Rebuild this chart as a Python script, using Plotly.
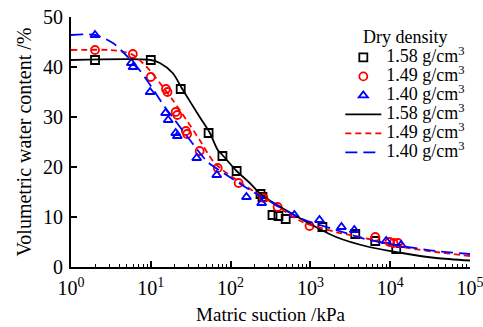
import plotly.graph_objects as go

# Measured soil-water characteristic data (matric suction in kPa, volumetric water content in %)
suction_158 = [2, 10, 23.7, 53, 79, 119, 237, 251, 335, 398, 490, 1413, 3650, 6500, 11900]
theta_158 = [41.4, 41.4, 35.6, 26.8, 22.2, 19.2, 14.6, 14.0, 10.4, 10.2, 9.6, 8.0, 6.6, 5.2, 3.6]

suction_149 = [2, 5.96, 10, 15.5, 16.2, 20.5, 21.5, 27.5, 28.5, 41, 69, 126, 258, 388, 975, 6500, 9800, 11000, 12500]
theta_149 = [43.4, 42.6, 38.0, 35.6, 35.0, 31.0, 30.4, 27.2, 26.6, 23.2, 19.8, 16.8, 13.8, 12.0, 8.2, 6.0, 5.0, 4.8, 4.8]

suction_140 = [2, 5.7, 6.0, 9.8, 15.3, 16.5, 20.5, 21.5, 37.6, 67, 158, 245, 630, 1300, 2450, 3550, 8900, 13700]
theta_140 = [46.4, 40.8, 40.0, 35.0, 30.8, 29.4, 26.8, 26.2, 21.8, 18.4, 14.0, 12.8, 10.4, 9.4, 8.0, 7.4, 5.2, 4.4]

# Fitted curves
fit_s_158 = [1, 10, 13, 18.8, 24.4, 41, 55, 69, 79, 119, 174, 245, 730, 2100, 5450, 14000, 37500, 100000]
fit_t_158 = [41.4, 41.4, 40.8, 38.8, 35.8, 30.0, 26.8, 23.4, 22.4, 19.2, 16.8, 14.4, 9.8, 6.0, 4.0, 2.8, 1.8, 1.3]

fit_s_149 = [1, 3.1, 4.7, 6, 8.9, 13, 18.8, 28, 41, 63, 129, 335, 795, 2100, 5450, 14000, 37500, 100000]
fit_t_149 = [43.4, 43.4, 43.0, 42.4, 40.0, 36.8, 33.4, 29.4, 25.4, 20.8, 17.0, 12.8, 9.0, 7.0, 5.6, 4.0, 3.0, 2.2]

fit_s_140 = [1, 2, 3.35, 4.47, 6.9, 8.9, 11.9, 15, 20, 33, 51.6, 89, 174, 335, 795, 2100, 5450, 14000, 37500, 100000]
fit_t_140 = [46.4, 46.4, 44.8, 43.0, 39.8, 37.4, 34.4, 32.0, 29.4, 24.8, 21.0, 18.4, 15.4, 12.8, 9.6, 7.4, 5.4, 4.2, 3.2, 2.6]

densities = ["1.58", "1.49", "1.40"]
colors = ["black", "red", "blue"]
symbols = ["square-open", "circle-open", "triangle-up-open"]

x_tick_vals = [1, 10, 100, 1000, 10000, 100000]
x_tick_text = ["10<sup>0</sup>", "10<sup>1</sup>", "10<sup>2</sup>",
               "10<sup>3</sup>", "10<sup>4</sup>", "10<sup>5</sup>"]
x_minor_vals = [m * 10 ** d for d in range(5) for m in range(2, 10)]

FONT = "Liberation Serif"


def legend_label(density):
    # large label text while keeping the legend rows compact
    return f"<span style='font-size:18px'>{density} g/cm<sup>3</sup></span>"


fig = go.Figure()

for s, t, d, c, sym in zip([suction_158, suction_149, suction_140],
                           [theta_158, theta_149, theta_140],
                           densities, colors, symbols):
    fig.add_trace(go.Scatter(
        x=s, y=t, mode="markers", name=legend_label(d),
        marker=dict(symbol=sym, size=8, color=c, line=dict(width=1.8, color=c)),
    ))

for s, t, d, c, dash in zip([fit_s_158, fit_s_149, fit_s_140],
                            [fit_t_158, fit_t_149, fit_t_140],
                            densities, colors, ["solid", "6px,4px", "12px,6px"]):
    fig.add_trace(go.Scatter(
        x=s, y=t, mode="lines", name=legend_label(d),
        line=dict(color=c, width=1.8, dash=dash, shape="spline", smoothing=0.8),
    ))

fig.update_layout(
    width=483, height=327,
    margin=dict(l=71, r=13, t=17, b=60),
    plot_bgcolor="white", paper_bgcolor="white",
    font=dict(family=FONT, size=19, color="black"),
    legend=dict(
        x=0.675, y=0.99, xanchor="left", yanchor="top",
        bgcolor="rgba(0,0,0,0)",
        title=dict(text="Dry density", side="top center", font=dict(size=18)),
        font=dict(size=12), tracegroupgap=0, itemwidth=36,
    ),
)

fig.update_xaxes(
    type="log", range=[0, 5], tickmode="array",
    tickvals=x_tick_vals, ticktext=x_tick_text, ticklabeloverflow="allow",
    showline=True, linecolor="black", linewidth=2,
    ticks="inside", ticklen=6, tickwidth=1.5, tickcolor="black",
    minor=dict(tickmode="array", tickvals=x_minor_vals, ticks="inside",
               ticklen=3, tickwidth=1, tickcolor="black", showgrid=False),
    showgrid=False, zeroline=False, automargin=False,
    title=dict(text="Matric suction /kPa", font=dict(size=19), standoff=10),
    tickfont=dict(size=20), ticklabelstandoff=2,
)
fig.update_yaxes(
    range=[0, 50], dtick=10,
    showline=True, linecolor="black", linewidth=2,
    ticks="inside", ticklen=6, tickwidth=1.5, tickcolor="black",
    showgrid=False, zeroline=False, automargin=False,
    title=dict(text="Volumetric water content /%", font=dict(size=20), standoff=6),
    tickfont=dict(size=20), ticklabelstandoff=2,
)

fig.write_html("out.html")
